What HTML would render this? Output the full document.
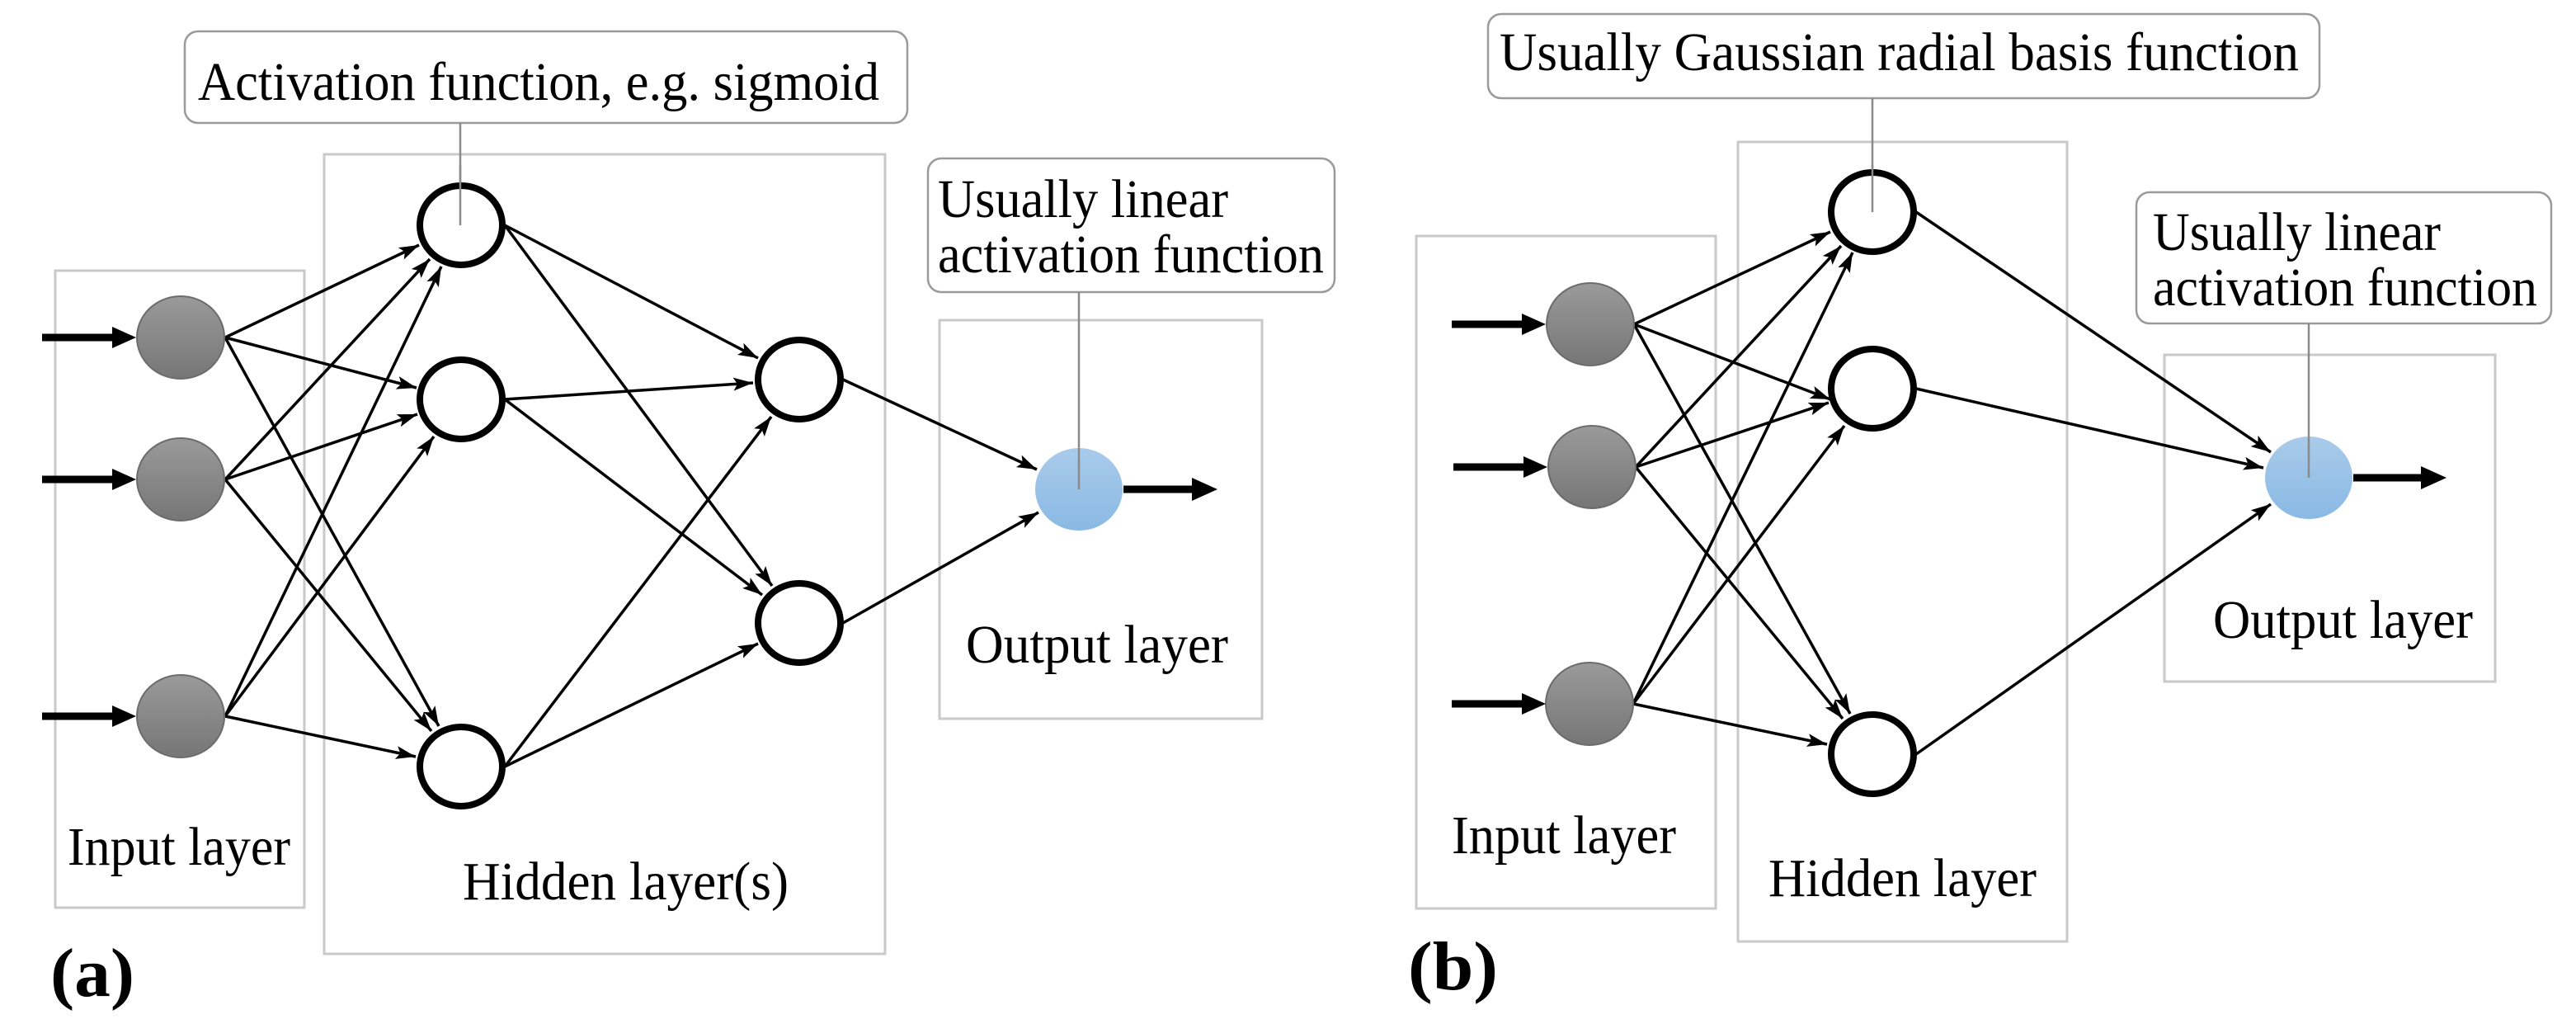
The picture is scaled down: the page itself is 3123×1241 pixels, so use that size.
<!DOCTYPE html>
<html><head><meta charset="utf-8"><style>
html,body{margin:0;padding:0;background:#fff;}
svg{display:block;}
text{font-family:"Liberation Serif",serif;fill:#000;}
</style></head><body>
<svg width="3123" height="1241" viewBox="0 0 3123 1241" xmlns="http://www.w3.org/2000/svg">
<defs>
<marker id="ah" markerUnits="userSpaceOnUse" markerWidth="26" markerHeight="20" refX="24" refY="10" orient="auto">
<path d="M0,2 L24,10 L0,18 L5,10 Z" fill="#000"/>
</marker>
<linearGradient id="gr" x1="0" y1="0" x2="0" y2="1"><stop offset="0" stop-color="#9a9a9a"/><stop offset="1" stop-color="#767676"/></linearGradient>
<linearGradient id="bl" x1="0" y1="0" x2="0" y2="1"><stop offset="0" stop-color="#a9cbea"/><stop offset="1" stop-color="#89b9e4"/></linearGradient>
</defs>

<!-- ===== Panel (a) ===== -->
<g fill="none" stroke="#c9c9c9" stroke-width="3">
<rect x="67" y="328" width="302" height="772"/>
<rect x="393" y="187" width="680" height="969"/>
<rect x="1139" y="388" width="391" height="483"/>
</g>
<g fill="#fff" stroke="#9a9a9a" stroke-width="2.5">
<rect x="224" y="38" width="876" height="111" rx="16"/>
<rect x="1125" y="192" width="493" height="162" rx="16"/>
</g>
<g stroke="#8a8a8a" stroke-width="2.5">
<line x1="558" y1="149" x2="558" y2="273"/>
<line x1="1308" y1="354" x2="1308" y2="593"/>
</g>

<g stroke="#000" stroke-width="3.5" marker-end="url(#ah)">
<line x1="273" y1="409" x2="508" y2="297"/>
<line x1="273" y1="409" x2="505" y2="470"/>
<line x1="273" y1="409" x2="532" y2="880"/>
<line x1="273" y1="581" x2="521" y2="314"/>
<line x1="273" y1="581" x2="506" y2="502"/>
<line x1="273" y1="581" x2="523" y2="886"/>
<line x1="273" y1="868" x2="535" y2="323"/>
<line x1="273" y1="868" x2="526" y2="529"/>
<line x1="273" y1="868" x2="504" y2="917"/>
<line x1="612" y1="273" x2="919" y2="434"/>
<line x1="612" y1="273" x2="936" y2="710"/>
<line x1="612" y1="484" x2="913" y2="464"/>
<line x1="612" y1="484" x2="924" y2="721"/>
<line x1="612" y1="929" x2="935" y2="505"/>
<line x1="612" y1="929" x2="919" y2="780"/>
<line x1="1022" y1="460" x2="1257" y2="569"/>
<line x1="1022" y1="755" x2="1259" y2="621"/>
</g>

<g fill="url(#gr)" stroke="#6c6c6c" stroke-width="2">
<ellipse cx="219" cy="409" rx="53" ry="50"/>
<ellipse cx="219" cy="581" rx="53" ry="50"/>
<ellipse cx="219" cy="868" rx="53" ry="50"/>
</g>
<g fill="#fff" stroke="#000" stroke-width="8">
<ellipse cx="559" cy="273" rx="50" ry="48"/>
<ellipse cx="559" cy="484" rx="50" ry="48"/>
<ellipse cx="559" cy="929" rx="50" ry="48"/>
<ellipse cx="969" cy="460" rx="50" ry="48"/>
<ellipse cx="969" cy="755" rx="50" ry="48"/>
</g>
<line x1="558" y1="200" x2="558" y2="273" stroke="#8a8a8a" stroke-width="2.5"/>
<ellipse cx="1308" cy="593" rx="53" ry="50" fill="url(#bl)"/>
<line x1="1308" y1="543" x2="1308" y2="593" stroke="#8a8a8a" stroke-width="2.5"/>

<g stroke="#000" stroke-width="9">
<line x1="51" y1="409" x2="142" y2="409"/>
<line x1="51" y1="581" x2="142" y2="581"/>
<line x1="51" y1="868" x2="142" y2="868"/>
<line x1="1362" y1="593" x2="1450" y2="593"/>
</g>
<g fill="#000">
<polygon points="136,396 165,409 136,422"/>
<polygon points="136,568 165,581 136,594"/>
<polygon points="136,855 165,868 136,881"/>
<polygon points="1445,579 1476,593 1445,607"/>
</g>

<g font-size="66">
<text x="240" y="121" textLength="826" lengthAdjust="spacingAndGlyphs">Activation function, e.g. sigmoid</text>
<text x="1137" y="263" textLength="352" lengthAdjust="spacingAndGlyphs">Usually linear</text>
<text x="1137" y="330" textLength="468" lengthAdjust="spacingAndGlyphs">activation function</text>
<text x="82" y="1048" textLength="270" lengthAdjust="spacingAndGlyphs">Input layer</text>
<text x="561" y="1090" textLength="395" lengthAdjust="spacingAndGlyphs">Hidden layer(s)</text>
<text x="1171" y="803" textLength="318" lengthAdjust="spacingAndGlyphs">Output layer</text>
</g>
<text x="61" y="1207" font-size="84" font-weight="bold" textLength="102" lengthAdjust="spacingAndGlyphs">(a)</text>

<!-- ===== Panel (b) ===== -->
<g fill="none" stroke="#c9c9c9" stroke-width="3">
<rect x="1717" y="286" width="363" height="815"/>
<rect x="2107" y="172" width="399" height="969"/>
<rect x="2624" y="430" width="401" height="396"/>
</g>
<g fill="#fff" stroke="#9a9a9a" stroke-width="2.5">
<rect x="1804" y="17" width="1008" height="102" rx="16"/>
<rect x="2590" y="233" width="503" height="159" rx="16"/>
</g>
<g stroke="#8a8a8a" stroke-width="2.5">
<line x1="2270" y1="119" x2="2270" y2="257"/>
<line x1="2799" y1="392" x2="2799" y2="579"/>
</g>

<g stroke="#000" stroke-width="3.5" marker-end="url(#ah)">
<line x1="1981" y1="393" x2="2219" y2="281"/>
<line x1="1981" y1="393" x2="2219" y2="484"/>
<line x1="1981" y1="393" x2="2243" y2="865"/>
<line x1="1983" y1="566" x2="2232" y2="298"/>
<line x1="1983" y1="566" x2="2217" y2="488"/>
<line x1="1983" y1="566" x2="2234" y2="871"/>
<line x1="1980" y1="853" x2="2246" y2="306"/>
<line x1="1980" y1="853" x2="2236" y2="516"/>
<line x1="1980" y1="853" x2="2215" y2="902"/>
<line x1="2323" y1="257" x2="2753" y2="548"/>
<line x1="2323" y1="471" x2="2744" y2="567"/>
<line x1="2323" y1="914" x2="2753" y2="611"/>
</g>

<g fill="url(#gr)" stroke="#6c6c6c" stroke-width="2">
<ellipse cx="1928" cy="393" rx="53" ry="50"/>
<ellipse cx="1930" cy="566" rx="53" ry="50"/>
<ellipse cx="1927" cy="853" rx="53" ry="50"/>
</g>
<g fill="#fff" stroke="#000" stroke-width="8">
<ellipse cx="2270" cy="257" rx="50" ry="48"/>
<ellipse cx="2270" cy="471" rx="50" ry="48"/>
<ellipse cx="2270" cy="914" rx="50" ry="48"/>
</g>
<line x1="2270" y1="200" x2="2270" y2="257" stroke="#8a8a8a" stroke-width="2.5"/>
<ellipse cx="2799" cy="579" rx="53" ry="50" fill="url(#bl)"/>
<line x1="2799" y1="529" x2="2799" y2="579" stroke="#8a8a8a" stroke-width="2.5"/>

<g stroke="#000" stroke-width="9">
<line x1="1760" y1="393" x2="1850" y2="393"/>
<line x1="1762" y1="566" x2="1852" y2="566"/>
<line x1="1760" y1="853" x2="1850" y2="853"/>
<line x1="2853" y1="579" x2="2940" y2="579"/>
</g>
<g fill="#000">
<polygon points="1845,380 1874,393 1845,406"/>
<polygon points="1847,553 1876,566 1847,579"/>
<polygon points="1845,840 1874,853 1845,866"/>
<polygon points="2935,565 2966,579 2935,593"/>
</g>

<g font-size="66">
<text x="1818" y="85" textLength="969" lengthAdjust="spacingAndGlyphs">Usually Gaussian radial basis function</text>
<text x="2610" y="303" textLength="349" lengthAdjust="spacingAndGlyphs">Usually linear</text>
<text x="2610" y="370" textLength="466" lengthAdjust="spacingAndGlyphs">activation function</text>
<text x="1760" y="1034" textLength="272" lengthAdjust="spacingAndGlyphs">Input layer</text>
<text x="2144" y="1086" textLength="325" lengthAdjust="spacingAndGlyphs">Hidden layer</text>
<text x="2683" y="773" textLength="315" lengthAdjust="spacingAndGlyphs">Output layer</text>
</g>
<text x="1707" y="1199" font-size="84" font-weight="bold" textLength="109" lengthAdjust="spacingAndGlyphs">(b)</text>
</svg>
</body></html>
